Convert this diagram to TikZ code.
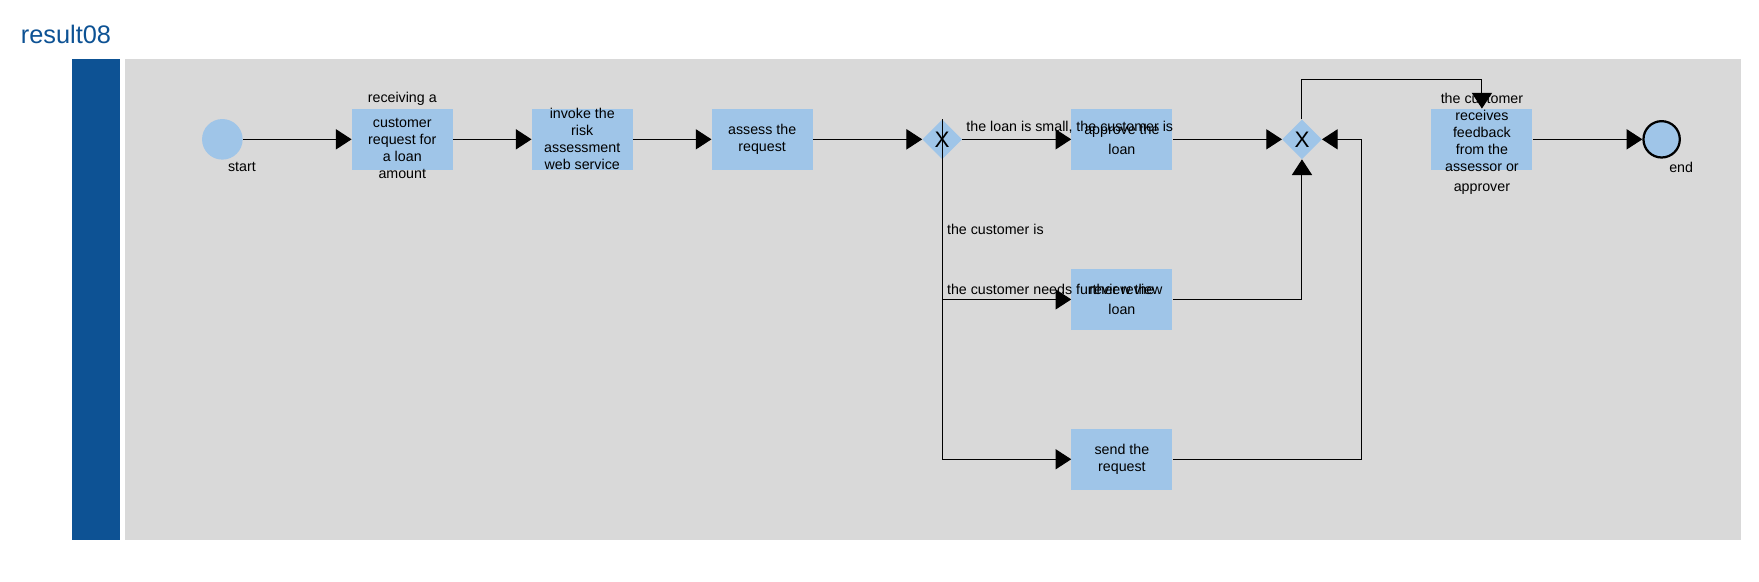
\documentclass[tikz,border=0pt]{standalone}
\usepackage{fontspec}
\setmainfont{Liberation Sans}
\usetikzlibrary{shapes.geometric,arrows.meta}
\definecolor{lanebar}{HTML}{0D5294}
\definecolor{poolgray}{HTML}{D9D9D9}
\definecolor{taskblue}{HTML}{9FC5E8}
\tikzset{
  txt/.style={font=\fontsize{12.7}{15.2}\selectfont, text=black, inner sep=0pt, align=center},
  taskbox/.style={rectangle, fill=taskblue, draw=none, minimum width=90pt, minimum height=54.4pt, inner sep=0pt,
                  font=\fontsize{12.7}{15.2}\selectfont, align=center},
  gateway/.style={diamond, aspect=1, fill=taskblue, draw=none, minimum width=35.3pt, minimum height=35.3pt,
                  inner sep=0pt, font=\fontsize{20}{20}\selectfont},
  flow/.style={draw=black, line width=0.9pt, -{Triangle[length=14pt,width=18pt]}},
}
\begin{document}
\begin{tikzpicture}[x=1pt,y=-1pt]
\useasboundingbox (0,0) rectangle (1568,518);
\fill[white] (0,0) rectangle (1568,518);
% pool and lane
\fill[poolgray] (111.4,52.5) rectangle (1552,481);
\fill[lanebar] (64.1,52.5) rectangle (106.9,481);
\node[anchor=base west, inner sep=0pt, text=lanebar, font=\fontsize{22.6}{24}\selectfont] (title) at (18.4,38.6) {result08};

% events
\node[circle, fill=taskblue, minimum size=36.2pt, inner sep=0pt] (st) at (198.2,124.2) {};
\node[txt] (stl) at (215.7,148.8) {start};
\node[circle, fill=taskblue, draw=black, line width=2pt, minimum size=32.4pt, inner sep=0pt] (en) at (1481.2,124.2) {};
\node[txt] (enl) at (1498.6,149) {end};

% tasks
\node[taskbox] (t1) at (358.6,124.2) {};
\node[txt] (t1a) at (358.6,88.5) {receiving a};
\node[txt] (t1b) at (358.6,132.5) {customer\\request for\\a loan\\amount};

\node[taskbox] (t2) at (519,124.2) {invoke the\\risk\\assessment\\web service};
\node[taskbox] (t3) at (679.4,124.2) {assess the\\request};
\node[taskbox, font=\fontsize{12.7}{17.7}\selectfont] (t4) at (1000.1,124.2) {approve the\\loan};
\node[taskbox, font=\fontsize{12.7}{17.7}\selectfont] (t5) at (1000.1,266.9) {review the\\loan};
\node[taskbox] (t6) at (1000.1,409.4) {send the\\request};

\node[taskbox] (t7) at (1321,124.2) {};
\node[txt] (t7a) at (1321,117.9) {the customer\\receives\\feedback\\from the\\assessor or};
\node[txt] (t7b) at (1321,168.7) {approver};

% gateways
\node[gateway] (g1) at (839.9,124.2) {X};
\node[gateway] (g2) at (1160.6,124.2) {X};

% edge labels
\node[txt, anchor=west] (l1) at (861.3,113.5) {the loan is small, the customer is};
\node[txt, anchor=west] (l2) at (844,204.4) {the customer is};
\node[txt, anchor=west] (l3) at (844,257.8) {the customer needs further review};

% bend points
\coordinate (c6) at (1213.8,409.4);
\coordinate (c7) at (1160.6,70.7);

% connectors
\draw[flow] (st) -- (t1);
\draw[flow] (t1) -- (t2);
\draw[flow] (t2) -- (t3);
\draw[flow] (t3) -- (g1);
\draw[flow] (g1) -- (t4);
\draw[flow] (g1.north) |- (t5.west);
\draw[flow] (g1.north) |- (t6.west);
\draw[flow] (t4) -- (g2);
\draw[flow] (t5.east) -| (g2.south);
\draw[flow] (t6.east) -- (c6) |- (g2.east);
\draw[flow] (g2.north) -- (c7) -| (t7.north);
\draw[flow] (t7) -- (en);
\end{tikzpicture}
\end{document}
